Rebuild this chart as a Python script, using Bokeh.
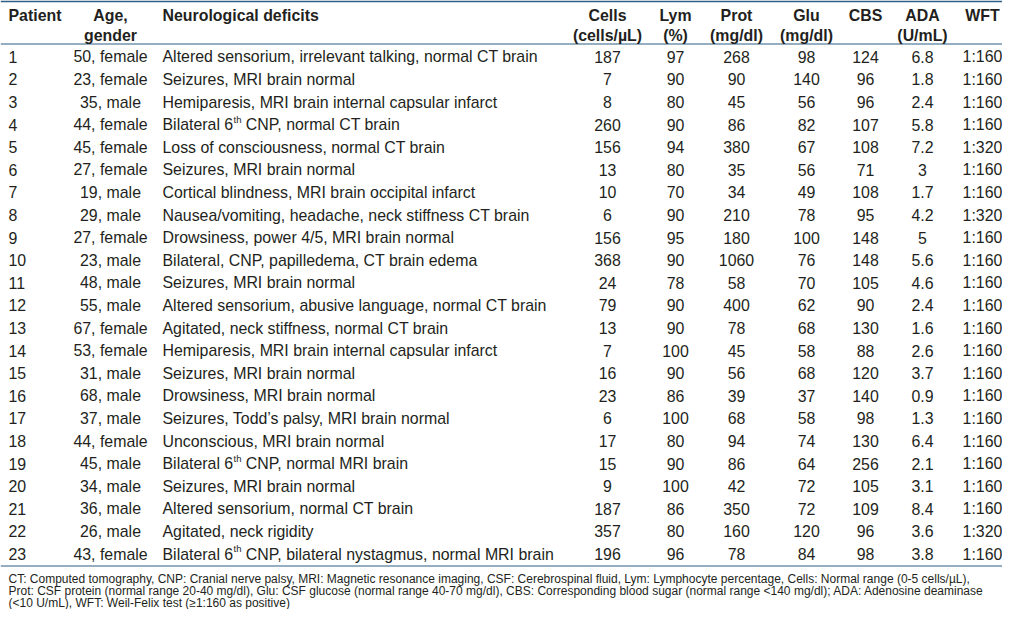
from bokeh.plotting import figure
from bokeh.models import Range1d
from bokeh.core.properties import value
from bokeh.embed import file_html
from bokeh.resources import INLINE

# ---------------- data ----------------
headers1 = ["Patient", "Age,", "Neurological deficits", "Cells", "Lym", "Prot", "Glu", "CBS", "ADA", "WFT"]
headers2 = ["", "gender", "", "(cells/µL)", "(%)", "(mg/dl)", "(mg/dl)", "", "(U/mL)", ""]

patients = [str(i) for i in range(1, 24)]
age_gender = ["50, female", "23, female", "35, male", "44, female", "45, female", "27, female",
              "19, male", "29, male", "27, female", "23, male", "48, male", "55, male",
              "67, female", "53, female", "31, male", "68, male", "37, male", "44, female",
              "45, male", "34, male", "36, male", "26, male", "43, female"]
deficits = [
    "Altered sensorium, irrelevant talking, normal CT brain",
    "Seizures, MRI brain normal",
    "Hemiparesis, MRI brain internal capsular infarct",
    "Bilateral 6th CNP, normal CT brain",
    "Loss of consciousness, normal CT brain",
    "Seizures, MRI brain normal",
    "Cortical blindness, MRI brain occipital infarct",
    "Nausea/vomiting, headache, neck stiffness CT brain",
    "Drowsiness, power 4/5, MRI brain normal",
    "Bilateral, CNP, papilledema, CT brain edema",
    "Seizures, MRI brain normal",
    "Altered sensorium, abusive language, normal CT brain",
    "Agitated, neck stiffness, normal CT brain",
    "Hemiparesis, MRI brain internal capsular infarct",
    "Seizures, MRI brain normal",
    "Drowsiness, MRI brain normal",
    "Seizures, Todd\u2019s palsy, MRI brain normal",
    "Unconscious, MRI brain normal",
    "Bilateral 6th CNP, normal MRI brain",
    "Seizures, MRI brain normal",
    "Altered sensorium, normal CT brain",
    "Agitated, neck rigidity",
    "Bilateral 6th CNP, bilateral nystagmus, normal MRI brain",
]
cells = [187, 7, 8, 260, 156, 13, 10, 6, 156, 368, 24, 79, 13, 7, 16, 23, 6, 17, 15, 9, 187, 357, 196]
lym = [97, 90, 80, 90, 94, 80, 70, 90, 95, 90, 78, 90, 90, 100, 90, 86, 100, 80, 90, 100, 86, 80, 96]
prot = [268, 90, 45, 86, 380, 35, 34, 210, 180, 1060, 58, 400, 78, 45, 56, 39, 68, 94, 86, 42, 350, 160, 78]
glu = [98, 140, 56, 82, 67, 56, 49, 78, 100, 76, 70, 62, 68, 58, 68, 37, 58, 74, 64, 72, 72, 120, 84]
cbs = [124, 96, 96, 107, 108, 71, 108, 95, 148, 148, 105, 90, 130, 88, 120, 140, 98, 130, 256, 105, 109, 96, 98]
ada = ["6.8", "1.8", "2.4", "5.8", "7.2", "3", "1.7", "4.2", "5", "5.6", "4.6", "2.4", "1.6", "2.6",
       "3.7", "0.9", "1.3", "6.4", "2.1", "3.1", "8.4", "3.6", "3.8"]
wft = ["1:160", "1:160", "1:160", "1:160", "1:320", "1:160", "1:160", "1:320", "1:160", "1:160",
       "1:160", "1:160", "1:160", "1:160", "1:160", "1:160", "1:160", "1:160", "1:160", "1:160",
       "1:160", "1:320", "1:160"]

footnotes = [
    "CT: Computed tomography, CNP: Cranial nerve palsy, MRI: Magnetic resonance imaging, CSF: Cerebrospinal fluid, Lym: Lymphocyte percentage, Cells: Normal range (0-5 cells/µL),",
    "Prot: CSF protein (normal range 20-40 mg/dl), Glu: CSF glucose (normal range 40-70 mg/dl), CBS: Corresponding blood sugar (normal range <140 mg/dl); ADA: Adenosine deaminase",
    "(<10 U/mL), WFT: Weil-Felix test (\u22651:160 as positive)",
]

# ---------------- layout ----------------
W, H = 1002, 609
X0, X1 = 0, 1002
Y0, Y1 = 609, 0
sx = W / (X1 - X0)

FONT = value("Liberation Sans")
BODY = 15.9
FOOT = 12
TXT = "#231f20"
RULE = "#2f5f85"

col_x = [8, 110, 162, 607, 675, 736, 806, 865, 922, 982]
col_align = ["left", "center", "left", "center", "center", "center", "center", "center", "center", "center"]

p = figure(width=W, height=H, x_range=Range1d(X0, X1), y_range=Range1d(Y0, Y1),
           output_backend="svg", toolbar_location=None, min_border=0)
p.axis.visible = False
p.grid.visible = False
p.outline_line_color = None
p.background_fill_color = "white"

# body row positions
row0, step = 56.3, 22.6
ys = [row0 + i * step for i in range(len(patients))]
bottom_rule = ys[-1] + 12

# rules
p.segment(x0=[X0, X0, X0], x1=[X1, X1, X1], y0=[0.9, 43.5, bottom_rule], y1=[0.9, 43.5, bottom_rule],
          line_color=RULE, line_width=[1.8, 1.2, 1.2])

# header
h1_base, h2_base = 14.5, 35
for x, a, t1, t2 in zip(col_x, col_align, headers1, headers2):
    p.text(x=[x], y=[h1_base], text=[t1], text_align=a, text_baseline="alphabetic",
           text_font=FONT, text_font_size=f"{BODY}px", text_font_style="bold", text_color=TXT)
    if t2:
        p.text(x=[x], y=[h2_base], text=[t2], text_align=a, text_baseline="alphabetic",
               text_font=FONT, text_font_size=f"{BODY}px", text_font_style="bold", text_color=TXT)

columns = [patients, age_gender, None, [str(v) for v in cells], [str(v) for v in lym],
           [str(v) for v in prot], [str(v) for v in glu], [str(v) for v in cbs], ada, wft]
for ci, (x, a, colvals) in enumerate(zip(col_x, col_align, columns)):
    if colvals is None:
        continue
    p.text(x=[x] * len(ys), y=ys, text=colvals, text_align=a, text_baseline="alphabetic",
           text_font=FONT, text_font_size=f"{BODY}px", text_color=TXT)

# deficits column (with superscript "th")
W_ARIAL = {"B": 667, "i": 222, "l": 222, "a": 556, "t": 278, "e": 556, "r": 333, " ": 278, "6": 556, "h": 556}
def text_w(s, size):
    return sum(W_ARIAL.get(c, 556) for c in s) / 1000 * size / sx

plain_x, plain_y, plain_t = [], [], []
SUP = 9.5
for y, d in zip(ys, deficits):
    if "6th" in d:
        pre, post = d.split("6th", 1)
        pre = pre + "6"
        p.text(x=[col_x[2]], y=[y], text=[pre], text_align="left", text_baseline="alphabetic",
               text_font=FONT, text_font_size=f"{BODY}px", text_color=TXT)
        xs = col_x[2] + text_w(pre, BODY) + 0.3
        p.text(x=[xs], y=[y - 5.5], text=["th"], text_align="left", text_baseline="alphabetic",
               text_font=FONT, text_font_size=f"{SUP}px", text_color=TXT)
        xp = xs + text_w("th", SUP) + text_w(" ", BODY)
        p.text(x=[xp], y=[y], text=[post.lstrip()], text_align="left", text_baseline="alphabetic",
               text_font=FONT, text_font_size=f"{BODY}px", text_color=TXT)
    else:
        plain_x.append(col_x[2]); plain_y.append(y); plain_t.append(d)
p.text(x=plain_x, y=plain_y, text=plain_t, text_align="left", text_baseline="alphabetic",
       text_font=FONT, text_font_size=f"{BODY}px", text_color=TXT)

# footnotes
fy = [bottom_rule + 12.5, bottom_rule + 24.5, bottom_rule + 36.5]
p.text(x=[8] * 3, y=fy, text=footnotes, text_align="left", text_baseline="alphabetic",
       text_font=FONT, text_font_size=f"{FOOT}px", text_color=TXT)

open("out.html", "w").write(file_html(p, INLINE))
